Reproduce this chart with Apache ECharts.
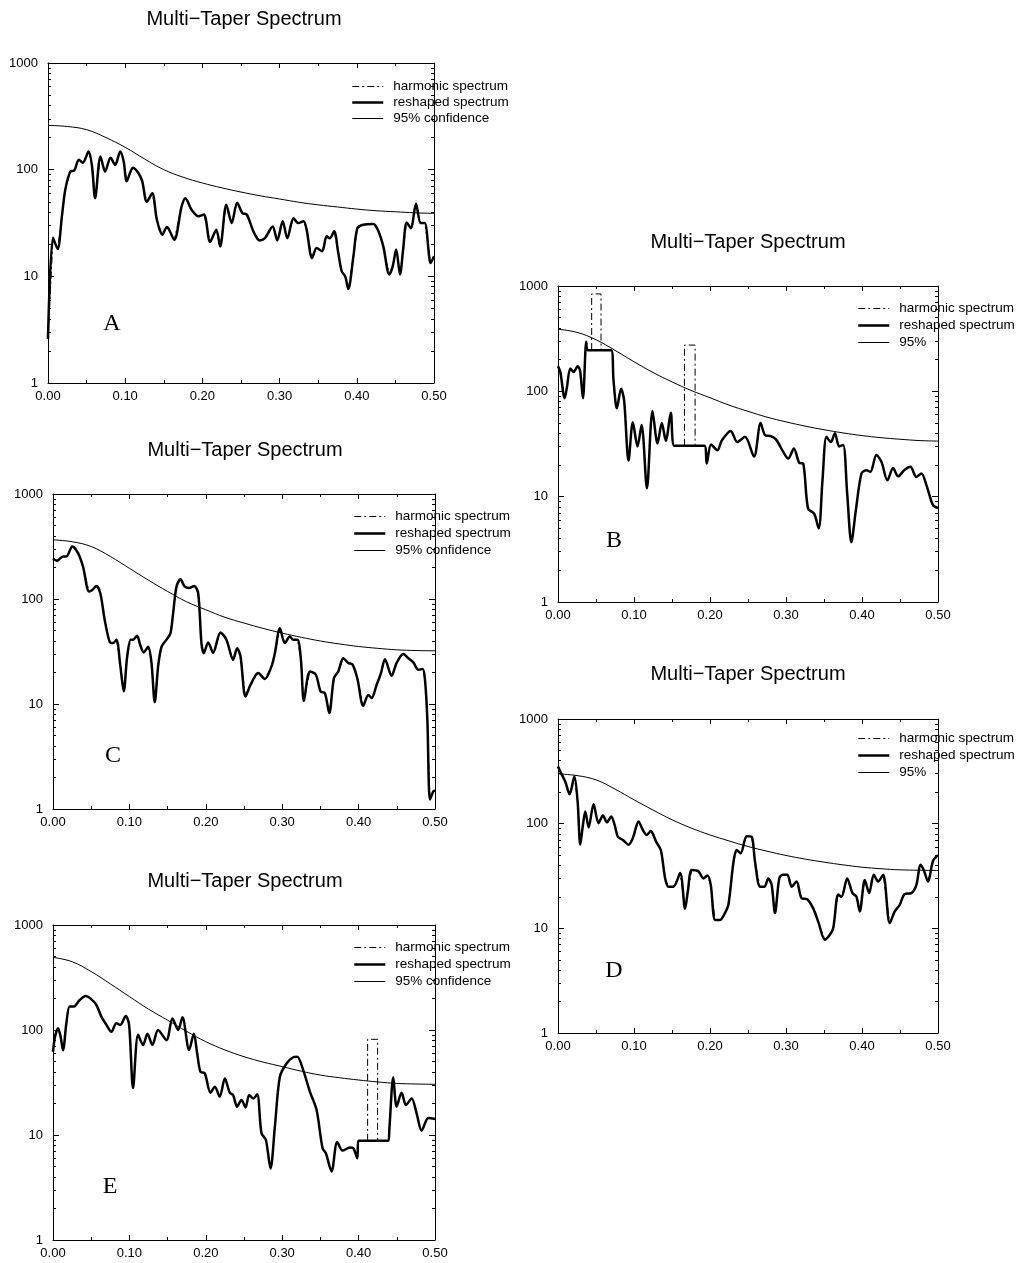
<!DOCTYPE html>
<html><head><meta charset="utf-8">
<script src="https://cdn.jsdelivr.net/npm/echarts@6/dist/echarts.min.js"></script>
<style>html,body{margin:0;padding:0;background:#fff}#c{width:1019px;height:1263px}</style>
</head><body><div id="c"></div>
<script>
// ---------- DATA ----------
const xTickValues = [0, 0.1, 0.2, 0.3, 0.4, 0.5];
const yTickValues = [1, 10, 100, 1000];
const yMinorTicks = [2,3,4,5,6,7,8,9,20,30,40,50,60,70,80,90,200,300,400,500,600,700,800,900];
const legendNamesLong = ['harmonic spectrum', 'reshaped spectrum', '95% confidence'];
const legendNamesShort = ['harmonic spectrum', 'reshaped spectrum', '95%'];
const titleText = 'Multi\u2212Taper Spectrum';
const panelLetters = ['A', 'B', 'C', 'D', 'E'];

const confFreq = [0,0.025,0.05,0.075,0.10,0.125,0.15,0.175,0.20,0.225,0.25,0.275,0.30,0.325,0.35,0.375,0.40,0.425,0.45,0.475,0.50];
const confA = [260,254,237,200,162,126,100,85,75,67.6,61.7,56.9,53.1,49.5,46.8,44.7,42.7,41.2,40.3,39.4,38.9];
const confB = [389,363,309,245,191,151,123,102,87,74,64.6,56.9,51.3,46.8,43.2,40.3,38.0,36.3,35.1,34.1,33.7];
const confC = [366,351,316,254,196,151,118,94,79,67,59,52.5,47.3,43.2,39.8,37.3,35.3,33.9,32.8,32.3,32.1];
const confD = [299,288,262,214,169,135,109,91,78,68.4,60.5,54.6,49.7,45.9,42.9,40.4,38.4,37.1,36.2,35.9,35.7];
const confE = [492,447,360,275,208,158,124,97,77.4,64.6,55.7,49.5,44.8,40.5,37.2,35.1,33.4,32.0,31.0,30.6,30.4];

const freqA = [0,0.0065,0.0125,0.018,0.0224,0.029,0.034,0.040,0.045,0.0526,0.057,0.061,0.068,0.074,0.081,0.087,0.0936,0.098,0.102,0.110,0.117,0.122,0.128,0.135,0.141,0.148,0.154,0.1635,0.173,0.178,0.186,0.195,0.202,0.210,0.218,0.223,0.231,0.238,0.245,0.252,0.2575,0.266,0.274,0.281,0.291,0.297,0.304,0.310,0.318,0.324,0.331,0.335,0.342,0.348,0.355,0.361,0.365,0.3706,0.376,0.3805,0.385,0.389,0.3956,0.4008,0.4085,0.4215,0.428,0.4344,0.442,0.4465,0.451,0.456,0.460,0.4646,0.47,0.4767,0.4827,0.488,0.4957,0.5];
const specA = [2.6,23,18,36.5,65,96,98,124,116,148,108,54,133,96,129,111,148,120,78,104,93,78,50,60,34,24.5,29,22,45,54,42,36.5,38,21,27.4,19,47,31.6,49,39,38,26.5,21.7,22.8,29.4,21.7,32.8,22.8,35,31.6,32.8,27.4,14.8,18.4,17.2,23.7,22.8,26.5,16.6,11.1,10,7.6,15.4,28.3,30.5,31,26.5,19,10.4,12.4,17.8,10.4,17.8,32,28.3,48,31.6,31.6,13.3,15.4];

const freqB = [0,0.003,0.0088,0.0118,0.0162,0.0206,0.0258,0.029,0.0328,0.0372,0.039,0.050,0.060,0.070,0.073,0.0775,0.083,0.087,0.0928,0.0985,0.1046,0.110,0.117,0.1243,0.131,0.1366,0.1419,0.1484,0.153,0.165,0.180,0.1926,0.1957,0.2014,0.2097,0.2154,0.2272,0.236,0.246,0.2579,0.2666,0.2723,0.2798,0.2868,0.2964,0.303,0.3104,0.3174,0.3227,0.329,0.337,0.343,0.348,0.3533,0.359,0.3643,0.37,0.3752,0.3805,0.386,0.3919,0.3993,0.4059,0.411,0.419,0.4256,0.4334,0.4409,0.4475,0.4562,0.4637,0.4715,0.478,0.4855,0.4934,0.5];
const specB = [173,153,86,110,165,153,173,158,86,296,246,246,246,246,128,69,106,82,22,51,30,48,12,65,32,50,34,62.5,30.4,30.4,30.4,30.4,20.6,31.3,27.6,34,42,33,37,24,50,38.5,37.5,35,26.6,23,28.7,21,20.6,7.7,6.9,5.0,14.3,37,33,40,30,31,10.7,3.7,7.4,16.6,17.8,17.2,24.8,21.4,14.3,18.7,15.6,18,19.2,15.4,16.6,12.4,8.3,7.8];
const harmB1Freq = [0.0443, 0.0443, 0.0566, 0.0566];
const harmB1Spec = [247, 841, 841, 247];
const harmB2Freq = [0.1664, 0.1664, 0.1804, 0.1804];
const harmB2Spec = [30.4, 275, 275, 30.4];

const freqC = [0,0.0052,0.0131,0.0175,0.0253,0.0328,0.0393,0.0472,0.0515,0.0568,0.062,0.0677,0.0742,0.0786,0.083,0.0882,0.0926,0.097,0.1017,0.105,0.110,0.1144,0.1188,0.1245,0.1288,0.1332,0.1376,0.142,0.1485,0.1537,0.1572,0.1616,0.1668,0.1725,0.1782,0.1847,0.19,0.1943,0.1974,0.2031,0.2096,0.2192,0.227,0.2358,0.241,0.2454,0.252,0.2585,0.2686,0.2773,0.286,0.2904,0.297,0.3035,0.31,0.3144,0.32,0.3245,0.3284,0.3362,0.3441,0.3502,0.3559,0.3616,0.3677,0.3734,0.38,0.3865,0.3921,0.3983,0.4061,0.4127,0.417,0.4236,0.4293,0.4345,0.4432,0.4498,0.4585,0.4651,0.4716,0.4782,0.4838,0.4869,0.49,0.4934,0.4978,0.5];
const specC = [244,231,254,254,316,273,203,118,122,133,113,63,39,38,41,22.8,13.2,28,41,41,44.6,36,31,35,25,10.4,22.8,35,41,47,73,131,154,131,127,133,114,38,30.5,38.5,30.8,48,41,26.4,34,28.5,11.8,15.2,19.7,17.3,22.8,30.5,52.7,38,44,41,41,26.4,10.7,20.4,19,13.2,12.7,8.2,17.6,20.4,27.3,24.6,23.7,17.6,9.6,12.2,11.4,15.2,19.7,26.7,18.6,24.6,30,27.3,24.9,21.2,21.5,17,7.1,1.23,1.47,1.5];

const freqD = [0,0.003,0.0096,0.0153,0.0215,0.0258,0.0293,0.0328,0.0359,0.0403,0.0468,0.0534,0.0591,0.0644,0.07,0.0744,0.0788,0.0854,0.0928,0.0985,0.106,0.1116,0.1169,0.1221,0.1292,0.1353,0.141,0.1454,0.1519,0.1607,0.1672,0.1708,0.176,0.1848,0.1913,0.1966,0.201,0.2067,0.2132,0.2185,0.2242,0.2307,0.2351,0.2404,0.2482,0.2548,0.2592,0.2658,0.2715,0.2767,0.2811,0.2855,0.2911,0.2955,0.3017,0.3074,0.3139,0.3205,0.3279,0.3358,0.3424,0.3511,0.3577,0.3621,0.3687,0.373,0.3805,0.3875,0.3927,0.3971,0.4037,0.4094,0.4155,0.4212,0.4278,0.4365,0.4431,0.4497,0.4562,0.465,0.4716,0.4768,0.4812,0.4869,0.4934,0.5];
const specD = [351,315,252,191,282,163,63,97,131,92,153,101,120,103,117,98,75,70,63,73,105,87,78,85,67,56,30,25,25,33.7,15.4,22.5,36,35,30,32,26,12,12,13.5,16.8,42,56,52,76,75,43.5,25,25,30,26,14,30,32.5,32.5,25,28,19.4,19,15.5,11.6,7.8,8.7,10,21,20,30,21.7,20,14.5,29,21.7,32.5,28,32.5,11.2,14.5,16.8,21.3,21.7,26,40.4,36,28,44,50];

const freqE = [0,0.0026,0.0066,0.01,0.0131,0.0175,0.0218,0.0271,0.0349,0.0428,0.0489,0.0568,0.0633,0.0699,0.0764,0.083,0.0882,0.0952,0.0996,0.1048,0.1114,0.1179,0.1236,0.1301,0.1376,0.1485,0.1563,0.1638,0.1694,0.1782,0.1843,0.1887,0.193,0.1987,0.2061,0.2118,0.2183,0.2249,0.2314,0.2358,0.241,0.2467,0.252,0.2568,0.262,0.2672,0.2729,0.2786,0.2847,0.2904,0.297,0.3057,0.3144,0.3197,0.3275,0.3362,0.345,0.3528,0.3572,0.3646,0.372,0.379,0.3886,0.393,0.3983,0.3996,0.41,0.425,0.4389,0.4402,0.4454,0.4498,0.4563,0.462,0.4694,0.476,0.4825,0.4913,0.5];
const specE = [62,86,104,86,64,116,167,167,193,211,200,173,134,112,96,116,112,136,112,28,90,72,92,72,100,80,129,100,132,64.5,92,60,40,38.6,25.3,28.8,23.2,34.6,25.3,24,18.6,21.6,18.3,24,22.3,24.4,10.4,9,4.8,12,36,48,55,55.7,41.5,25.9,17.3,7.5,6.7,4.5,8.6,7.1,7.6,7.5,6.0,8.8,8.8,8.8,8.8,11.2,35.4,18.6,25.3,19.3,22.3,16,11,14.5,14.2];
const harmEFreq = [0.4118, 0.4118, 0.4249, 0.4249];
const harmESpec = [8.8, 81.5, 81.5, 8.8];

// ---------- LAYOUT ----------
const zip = (xs, ys) => xs.map((x, i) => [x, ys[i]]);
const panels = [
  {grid:{left:48, top:63, width:386, height:320}, title:[244,19], letter:[112,324], legend:{left:351, top:79.5, gap:2}, names:legendNamesLong,
   freq:freqA, spec:specA, conf:confA, harm:[[freqA, specA]]},
  {grid:{left:558, top:286, width:380, height:316}, title:[748,242], letter:[614,541], legend:{left:857, top:301.5, gap:3}, names:legendNamesShort,
   freq:freqB, spec:specB, conf:confB, harm:[[harmB1Freq, harmB1Spec],[harmB2Freq, harmB2Spec]]},
  {grid:{left:53, top:494, width:382, height:315}, title:[245,450], letter:[113,756], legend:{left:353, top:509.5, gap:3}, names:legendNamesLong,
   freq:freqC, spec:specC, conf:confC, harm:[[freqC, specC]]},
  {grid:{left:558, top:719, width:380, height:314}, title:[748,674], letter:[614,971], legend:{left:857, top:731.5, gap:3}, names:legendNamesShort,
   freq:freqD, spec:specD, conf:confD, harm:[[freqD, specD]]},
  {grid:{left:53, top:925, width:382, height:315}, title:[245,881], letter:[110,1187], legend:{left:353, top:940.5, gap:3}, names:legendNamesLong,
   freq:freqE, spec:specE, conf:confE, harm:[[harmEFreq, harmESpec]]}
];

const FONT = '"Liberation Sans", Arial, sans-serif';
const BLACK = '#000';
const DASHDOT = [7,3,2,3];
const grids = [], xAxes = [], yAxes = [], series = [], legends = [], graphics = [];

panels.forEach((p, i) => {
  grids.push(Object.assign({show:false}, p.grid));
  const xBase = {
    gridIndex:i, type:'value', min:xTickValues[0], max:xTickValues[xTickValues.length-1], interval:0.1,
    axisLine:{show:true, onZero:false, lineStyle:{color:BLACK, width:1}},
    axisTick:{show:true, inside:true, length:5, lineStyle:{color:BLACK, width:1}},
    minorTick:{show:true, splitNumber:2, length:3, lineStyle:{color:BLACK, width:1}},
    splitLine:{show:false}, minorSplitLine:{show:false}
  };
  xAxes.push(Object.assign({}, xBase, {position:'bottom',
    axisLabel:{show:true, color:BLACK, fontSize:13, fontFamily:FONT, margin:7, formatter:v => v.toFixed(2)}}));
  xAxes.push(Object.assign({}, xBase, {position:'top', axisLabel:{show:false}}));

  const yBase = {gridIndex:i, type:'log', logBase:10, min:yTickValues[0], max:yTickValues[yTickValues.length-1], splitLine:{show:false}};
  ['left','right'].forEach(pos => {
    yAxes.push(Object.assign({}, yBase, {position:pos,
      axisLine:{show:true, onZero:false, lineStyle:{color:BLACK, width:1}},
      axisTick:{show:true, inside:true, length:6, lineStyle:{color:BLACK, width:1}},
      axisLabel:{show:pos==='left', color:BLACK, fontSize:13, fontFamily:FONT, margin:10, customValues:yTickValues, formatter:v => String(Math.round(v))}}));
    yAxes.push(Object.assign({}, yBase, {position:pos,
      axisLine:{show:false, onZero:false},
      axisTick:{show:true, inside:true, length:3, customValues:yMinorTicks, lineStyle:{color:BLACK, width:1}},
      axisLabel:{show:false}}));
  });

  const xi = 2*i, yi = 4*i;
  p.harm.forEach(h => series.push({
    type:'line', name:p.names[0], xAxisIndex:xi, yAxisIndex:yi, data:zip(h[0], h[1]),
    symbol:'none', smooth:false, z:1, silent:true, color:BLACK,
    lineStyle:{color:BLACK, width:1, type:DASHDOT}
  }));
  series.push({
    type:'line', name:p.names[1], xAxisIndex:xi, yAxisIndex:yi, data:zip(p.freq, p.spec),
    symbol:'none', smooth:0.3, z:3, silent:true, color:BLACK,
    lineStyle:{color:BLACK, width:2.5}
  });
  series.push({
    type:'line', name:p.names[2], xAxisIndex:xi, yAxisIndex:yi, data:zip(confFreq, p.conf),
    symbol:'none', smooth:0.4, z:2, silent:true, color:BLACK,
    lineStyle:{color:BLACK, width:1}
  });

  legends.push({
    orient:'vertical', left:p.legend.left, top:p.legend.top, padding:0, itemGap:p.legend.gap,
    itemWidth:31, itemHeight:14, selectedMode:false,
    data:[
      {name:p.names[0], lineStyle:{color:BLACK, width:1, type:DASHDOT}},
      {name:p.names[1], lineStyle:{color:BLACK, width:2.5, type:'solid'}},
      {name:p.names[2], lineStyle:{color:BLACK, width:1, type:'solid'}}
    ],
    itemStyle:{opacity:0},
    textStyle:{color:BLACK, fontSize:13.5, fontFamily:FONT, padding:[0,0,0,5]}
  });

  graphics.push({type:'text', x:p.title[0], y:p.title[1], silent:true,
    style:{text:titleText, fill:BLACK, font:'20px ' + FONT, align:'center', verticalAlign:'middle', textAlign:'center', textVerticalAlign:'middle'}});
  graphics.push({type:'text', x:p.letter[0], y:p.letter[1], silent:true,
    style:{text:panelLetters[i], fill:BLACK, font:'24px "Liberation Serif", "Times New Roman", serif', align:'center', verticalAlign:'middle', textAlign:'center', textVerticalAlign:'middle'}});
});

const chart = echarts.init(document.getElementById('c'), null, {renderer:'canvas'});
chart.setOption({
  animation:false,
  backgroundColor:'#fff',
  grid:grids, xAxis:xAxes, yAxis:yAxes, series:series, legend:legends, graphic:graphics
});
</script>
</body></html>
